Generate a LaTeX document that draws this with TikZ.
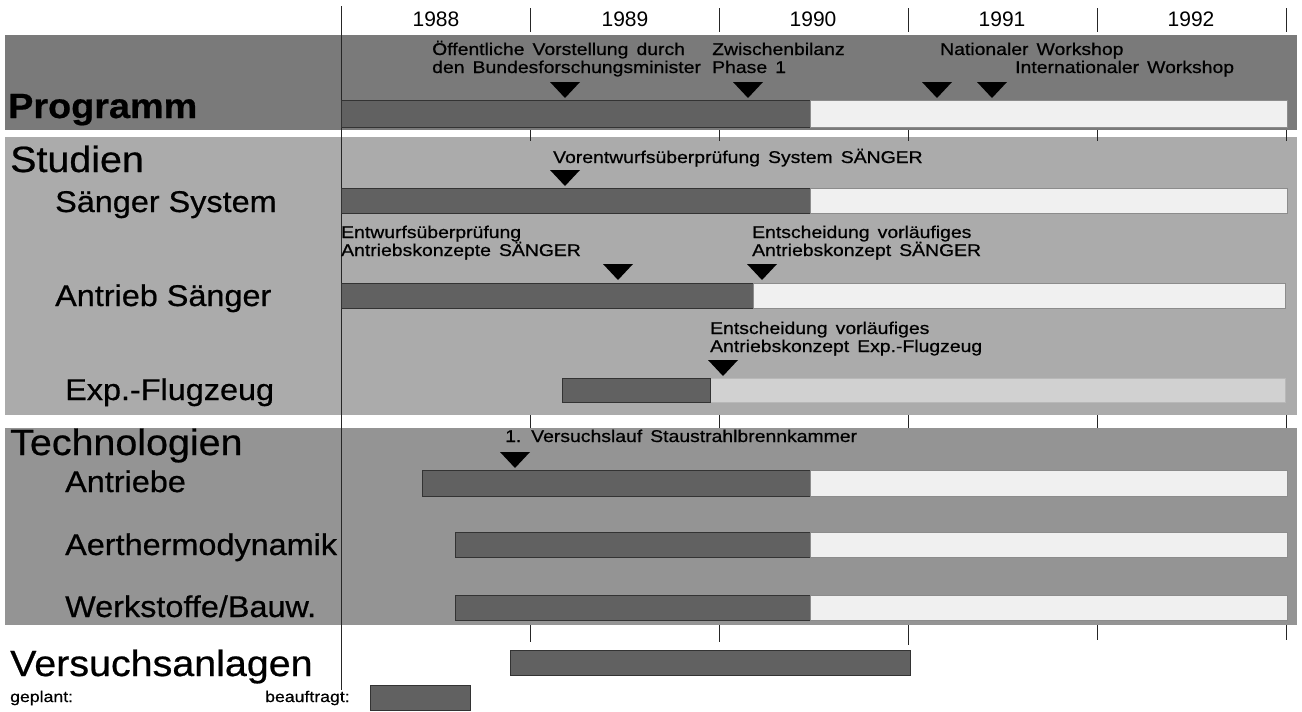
\documentclass[tikz,border=0pt]{standalone}
\usepackage{fontspec}
\setmainfont{Liberation Sans}
\newfontfamily\rowfont[FakeStretch=1.08,FakeBold=0.6]{Liberation Sans}
\newfontfamily\notefont[FakeStretch=1.14,WordSpace=1.5,FakeBold=0.6]{Liberation Sans}
\begin{document}
\begin{tikzpicture}[x=1pt,y=-1pt,yearlabel/.style={anchor=base,inner sep=0,font=\fontsize{21}{21}\selectfont},grouplabel/.style={anchor=base west,inner sep=0,font=\rowfont\fontsize{36.5}{36.5}\selectfont},rowlabel/.style={anchor=base west,inner sep=0,font=\rowfont\fontsize{30}{30}\selectfont},note/.style={anchor=base west,inner sep=0,font=\notefont\fontsize{17}{17}\selectfont},legendlabel/.style={anchor=base west,inner sep=0,font=\notefont\fontsize{15.5}{15.5}\selectfont},donebar/.style={draw=black!80,fill=black!62},openbar/.style={draw=black!45,fill=black!6},milestone/.style={fill=black},tick/.style={black!85,line width=1pt}]
\def\yA{341};
\def\yB{530};
\def\yC{719};
\def\yD{908};
\def\yE{1097};
\def\yF{1286};
\def\xL{5}
\def\xR{1297}
\def\milestone#1#2{\fill[milestone] (#1-15,#2) -- (#1+15,#2) -- (#1,#2+16) -- cycle;}

\useasboundingbox (0,0) rectangle (1302,712);

\fill[black!52] (\xL,35) rectangle (\xR,130);
\fill[black!33] (\xL,137) rectangle (\xR,415);
\fill[black!42] (\xL,428) rectangle (\xR,625);

\draw[tick] (\yA,6) -- (\yA,690);
\draw[tick] (\yB,8) -- (\yB,32) (\yC,8) -- (\yC,32) (\yD,8) -- (\yD,32) (\yE,8) -- (\yE,32) (\yF,8) -- (\yF,32);
\draw[tick] (\yB,130) -- (\yB,141) (\yC,130) -- (\yC,141) (\yD,130) -- (\yD,141) (\yE,130) -- (\yE,141) (\yF,130) -- (\yF,141);
\draw[tick] (\yB,415) -- (\yB,428) (\yC,415) -- (\yC,428) (\yD,415) -- (\yD,428) (\yE,415) -- (\yE,428) (\yF,415) -- (\yF,428);
\draw[tick] (\yB,625) -- (\yB,642) (\yC,625) -- (\yC,642) (\yD,625) -- (\yD,645) (\yE,625) -- (\yE,640) (\yF,625) -- (\yF,640);

\node[yearlabel] (y1988) at (436,27) {1988};
\node[yearlabel] (y1989) at (625,27) {1989};
\node[yearlabel] (y1990) at (813,27) {1990};
\node[yearlabel] (y1991) at (1002,27) {1991};
\node[yearlabel] (y1992) at (1191,27) {1992};

% Programm
\node[grouplabel,font=\rowfont\bfseries\fontsize{35}{35}\selectfont] (progL) at (8,118) {Programm};
\draw[donebar] (\yA,100) rectangle (810,127);
\draw[openbar] (810,100) rectangle (1287,127);
\node[note] (progN1a) at (432,55) {Öffentliche Vorstellung durch};
\node[note] (progN1b) at (432,73) {den Bundesforschungsminister};
\node[note] (progN2a) at (712,55) {Zwischenbilanz};
\node[note] (progN2b) at (712,73) {Phase 1};
\node[note] (progN3) at (940,55) {Nationaler Workshop};
\node[note] (progN4) at (1015,73) {Internationaler Workshop};
\milestone{565}{82}
\milestone{748}{82}
\milestone{937}{82}
\milestone{992}{82}

% Studien
\node[grouplabel] (studL) at (10,172) {Studien};
\node[rowlabel] (studSysL) at (55,212) {Sänger System};
\node[note] (studSysN) at (553,163) {Vorentwurfsüberprüfung System SÄNGER};
\milestone{565}{170}
\draw[donebar] (\yA,188) rectangle (810,213);
\draw[openbar] (810,188) rectangle (1287,213);

\node[rowlabel] (studAntL) at (55,306) {Antrieb Sänger};
\node[note] (studAntN1a) at (341,238) {Entwurfsüberprüfung};
\node[note] (studAntN1b) at (341,256) {Antriebskonzepte SÄNGER};
\node[note] (studAntN2a) at (752,238) {Entscheidung vorläufiges};
\node[note] (studAntN2b) at (752,256) {Antriebskonzept SÄNGER};
\milestone{618}{264}
\milestone{762}{264}
\draw[donebar] (\yA,283) rectangle (753,308);
\draw[openbar] (753,283) rectangle (1285,308);

\node[rowlabel] (studExpL) at (65,400) {Exp.-Flugzeug};
\node[note] (studExpN1a) at (710,334) {Entscheidung vorläufiges};
\node[note] (studExpN1b) at (710,352) {Antriebskonzept Exp.-Flugzeug};
\milestone{723}{360}
\draw[openbar,draw=black!28,fill=black!18] (710,378) rectangle (1285,402);
\draw[donebar] (562,378) rectangle (710,402);

% Technologien
\node[grouplabel] (techL) at (10,455) {Technologien};
\node[note] (techAntN) at (505,442) {1. Versuchslauf Staustrahlbrennkammer};
\milestone{515}{452}
\node[rowlabel] (techAntL) at (65,492) {Antriebe};
\draw[donebar] (422,470) rectangle (810,496);
\draw[openbar] (810,470) rectangle (1287,496);
\node[rowlabel] (techAerL) at (65,555) {Aerthermodynamik};
\draw[donebar] (455,532) rectangle (810,557);
\draw[openbar] (810,532) rectangle (1287,557);
\node[rowlabel] (techWerL) at (65,617) {Werkstoffe/Bauw.};
\draw[donebar] (455,595) rectangle (810,620);
\draw[openbar] (810,595) rectangle (1287,620);

% Versuchsanlagen
\node[grouplabel] (versL) at (10,676) {Versuchsanlagen};
\draw[donebar] (510,650) rectangle (910,675);

\node[legendlabel] (legPlan) at (10,702) {geplant:};
\node[legendlabel] (legDone) at (265,702) {beauftragt:};
\draw[donebar] (370,685) rectangle (470,710);
\end{tikzpicture}
\end{document}
